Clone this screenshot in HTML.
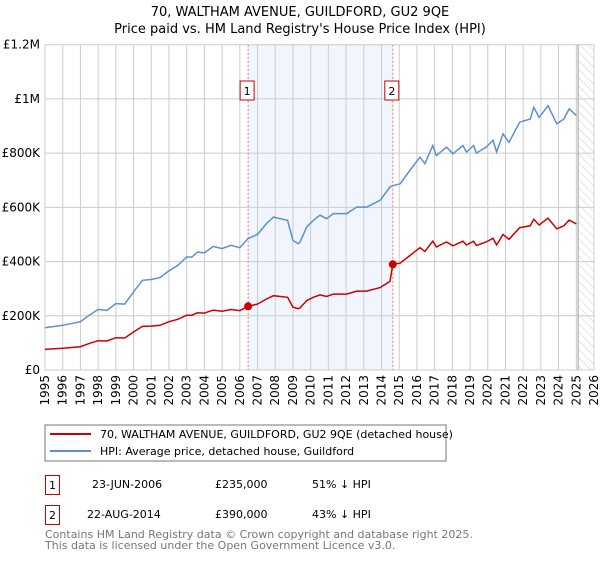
<!DOCTYPE html>
<html><head><meta charset="utf-8"><style>
body{margin:0;background:#fff;font-family:"Liberation Sans","DejaVu Sans",sans-serif;}
svg text{font-family:"DejaVu Sans","Liberation Sans",sans-serif;}
</style></head><body>
<svg id="c" width="600" height="560" xmlns="http://www.w3.org/2000/svg">
<text x="300" y="16" text-anchor="middle" font-size="13">70, WALTHAM AVENUE, GUILDFORD, GU2 9QE</text>
<text x="300" y="33" text-anchor="middle" font-size="13">Price paid vs. HM Land Registry's House Price Index (HPI)</text>
<defs><pattern id="hatch" width="6" height="6" patternUnits="userSpaceOnUse" patternTransform="rotate(-45)"><line x1="0" y1="0" x2="0" y2="6" stroke="#ccc" stroke-width="1"/></pattern></defs>
<g id="plot"></g>
<rect x="45" y="425" width="401" height="36" fill="#fff" stroke="#777"/>
<line x1="50" y1="434" x2="91" y2="434" stroke="#cc0000" stroke-width="2"/>
<text x="100" y="438" font-size="11">70, WALTHAM AVENUE, GUILDFORD, GU2 9QE (detached house)</text>
<line x1="50" y1="451" x2="91" y2="451" stroke="#5b8fd4" stroke-width="2"/>
<text x="100" y="455" font-size="11">HPI: Average price, detached house, Guildford</text>
<g>
<rect x="45.5" y="475.5" width="14" height="19" fill="#fff" stroke="#cc0000"/>
<text x="52.5" y="489" text-anchor="middle" font-size="11">1</text>
<text x="92" y="488" font-size="11">23-JUN-2006</text>
<text x="215" y="488" font-size="11">£235,000</text>
<text x="312" y="488" font-size="11">51% ↓ HPI</text></g>
<g>
<rect x="45.5" y="505.5" width="14" height="19" fill="#fff" stroke="#cc0000"/>
<text x="52.5" y="519" text-anchor="middle" font-size="11">2</text>
<text x="87" y="518" font-size="11">22-AUG-2014</text>
<text x="215" y="518" font-size="11">£390,000</text>
<text x="312" y="518" font-size="11">43% ↓ HPI</text></g>
<text x="45" y="538" font-size="11" fill="#777">Contains HM Land Registry data © Crown copyright and database right 2025.</text>
<text x="45" y="549" font-size="11" fill="#777">This data is licensed under the Open Government Licence v3.0.</text>
</svg>
<script>
const years=[1995.0,1996,1997,1997.5,1998,1998.5,1999,1999.5,2000,2000.5,2001,2001.5,2002,2002.5,2003,2003.3,2003.6,2004,2004.5,2005,2005.5,2006,2006.47,2007,2007.5,2007.9,2008.3,2008.7,2009.0,2009.3,2009.4,2009.78,2010.15,2010.53,2010.9,2011.28,2012.03,2012.6,2013.16,2013.92,2014.48,2014.64,2015.05,2015.6,2016.17,2016.45,2016.9,2017.1,2017.67,2018.04,2018.6,2018.8,2019.2,2019.36,2019.9,2020.3,2020.5,2020.86,2021.2,2021.8,2022.4,2022.6,2022.9,2023.4,2023.9,2024.3,2024.6,2025.0];
const hpi=[156,165,178,202,223,220,245,243,288,331,334,341,366,386,417,417,435,432,456,448,460,451,485,500,540,564,558,552,478,466,472,527,552,571,558,577,577,601,601,626,675,680,687,736,785,761,828,791,822,798,828,804,828,800,822,847,804,871,840,914,926,969,932,975,908,926,963,939];
const price=[76,80,86,98,108,107,119,118,140,161,162,165,178,187,202,202,211,210,221,217,223,219,235,243,262,274,271,268,232,226,229,256,268,277,271,280,280,291,291,304,327,390,394,422,451,437,475,454,472,458,475,461,475,459,472,486,461,500,482,525,532,556,535,560,521,532,553,539];
const yTicks=[0,200,400,600,800,1000,1200];
const yTickLabels=["£0","£200K","£400K","£600K","£800K","£1M","£1.2M"];
const xTicks=[1995,1996,1997,1998,1999,2000,2001,2002,2003,2004,2005,2006,2007,2008,2009,2010,2011,2012,2013,2014,2015,2016,2017,2018,2019,2020,2021,2022,2023,2024,2025,2026];
const saleYears=[2006.47,2014.64];
const saleValues=[235,390];
const saleLabels=["1","2"];
const dataEnd=2025.1;
const L=45,R=594,T=44.7,B=370;
const X=y=>L+(y-1995)/(2026-1995)*(R-L);
const Y=v=>B-v/1200*(B-T);
const NS="http://www.w3.org/2000/svg";
const g=document.getElementById('plot');
function mk(t,a,p){const e=document.createElementNS(NS,t);for(const k in a)e.setAttribute(k,a[k]);(p||g).appendChild(e);return e;}
let e;
e=mk('rect',{x:X(saleYears[0]),y:T,width:X(saleYears[1])-X(saleYears[0]),height:B-T,fill:'#eef2fc',opacity:0.8});


e=mk('rect',{x:X(dataEnd),y:T,width:R-X(dataEnd),height:B-T,fill:'url(#hatch)'});


xTicks.forEach(t=>{
e=mk('line',{x1:X(t),x2:X(t),y1:T,y2:B,stroke:'#ccc','stroke-width':1});


e=mk('text',{transform:`translate(${X(t)+4},375) rotate(-90)`,'text-anchor':'end','font-size':12});
e.textContent=t;


});
yTicks.forEach((t,i)=>{
e=mk('line',{x1:L,x2:R,y1:Y(t),y2:Y(t),stroke:'#ccc','stroke-width':1});


e=mk('text',{x:40,y:Y(t)+4,'text-anchor':'end','font-size':12});
e.textContent=yTickLabels[i];


});
e=mk('line',{x1:X(dataEnd),x2:X(dataEnd),y1:T,y2:B,stroke:'#999','stroke-width':1});


saleYears.forEach((s,i)=>{
e=mk('line',{x1:X(s),x2:X(s),y1:T,y2:B,stroke:'#f07070','stroke-width':1,'stroke-dasharray':'2,2'});


e=mk('rect',{x:X(s)-8,y:81,width:14,height:19,fill:'#fff',stroke:'#cc0000'});


e=mk('text',{x:X(s)-1,y:95,'text-anchor':'middle','font-size':11});
e.textContent=saleLabels[i];


});
const pts=a=>years.map((y,i)=>X(y).toFixed(1)+','+Y(a[i]).toFixed(1)).join(' ');
e=mk('polyline',{points:pts(hpi),fill:'none',stroke:'#5b8fd4','stroke-width':1.5});


e=mk('polyline',{points:pts(price),fill:'none',stroke:'#cc0000','stroke-width':1.5});


saleYears.forEach((s,i)=>{
e=mk('circle',{cx:X(s),cy:Y(saleValues[i]),r:4,fill:'#cc0000'});


});
</script>
</body></html>
